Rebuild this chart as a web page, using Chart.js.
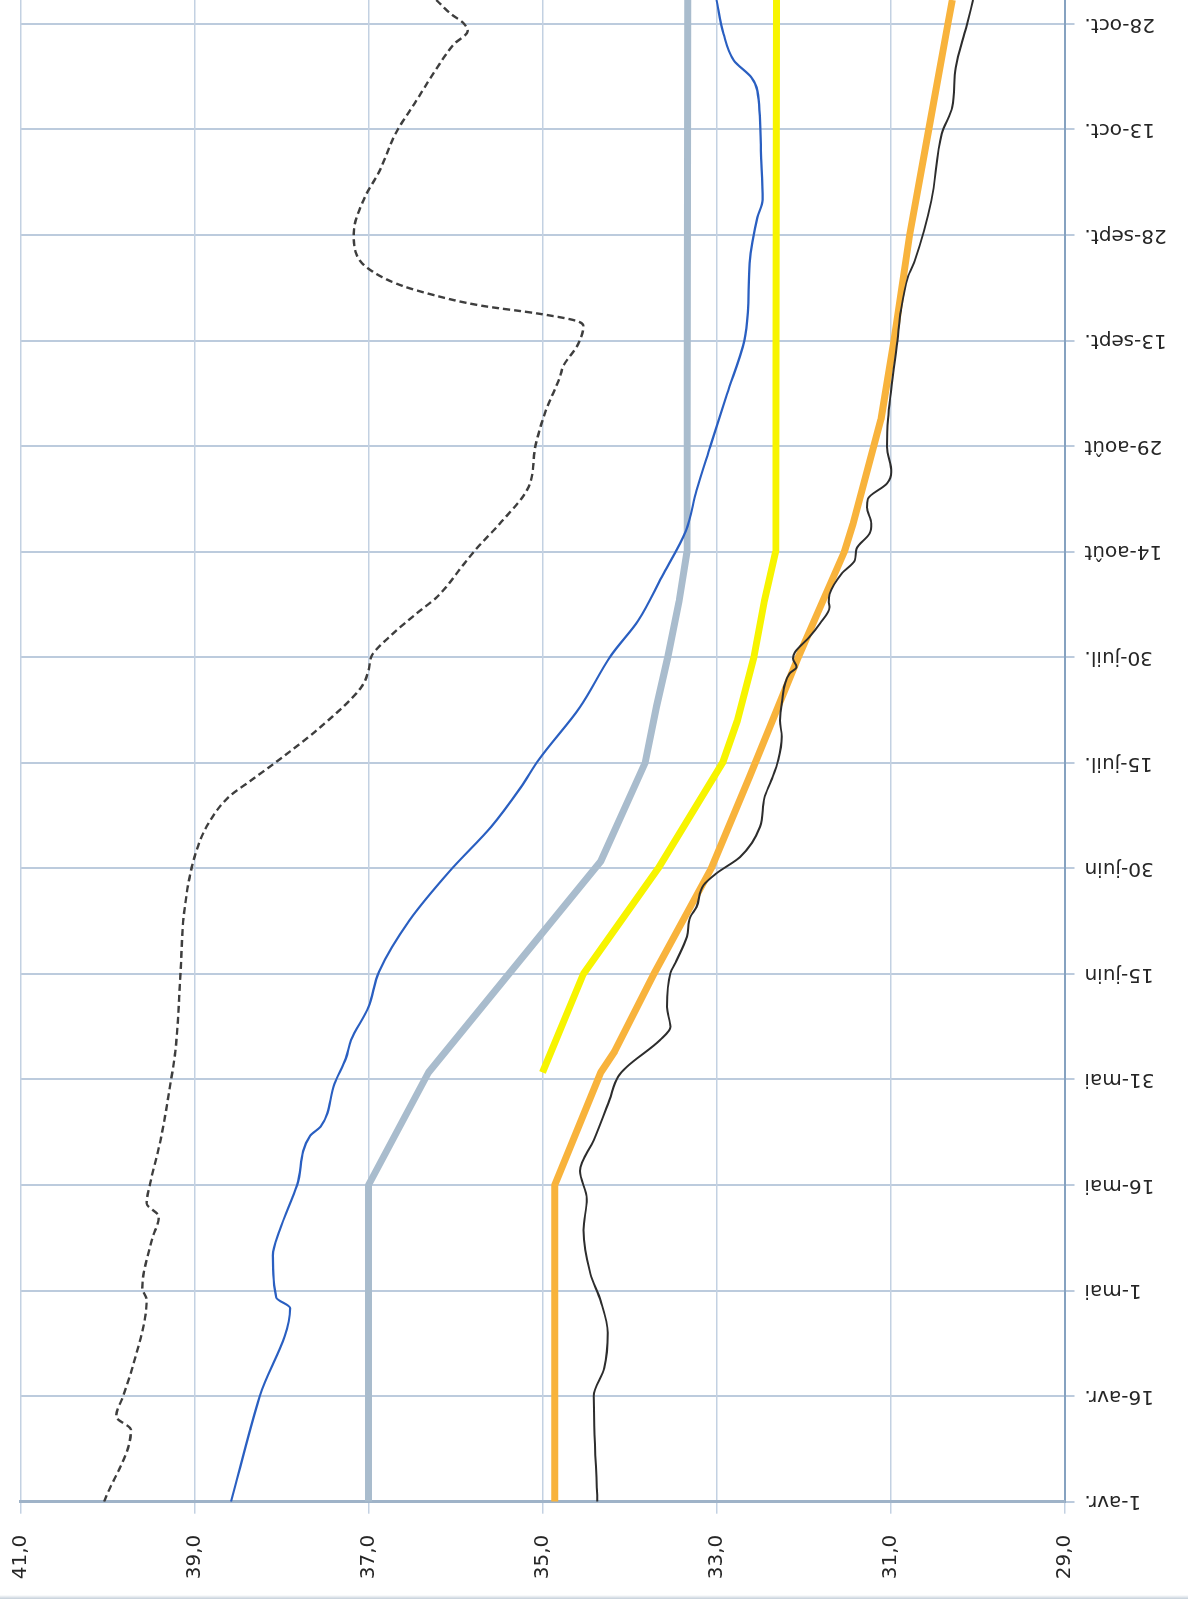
<!DOCTYPE html>
<html><head><meta charset="utf-8">
<script src="https://cdn.jsdelivr.net/npm/chart.js@4.4.1/dist/chart.umd.min.js"></script>
<style>
html,body{margin:0;padding:0;background:#fff;overflow:hidden;}
#page{position:relative;width:1188px;height:1599px;overflow:hidden;background:#fff;}
#rot{position:absolute;left:0;top:0;width:1599px;height:1188px;transform-origin:0 0;transform:translate(0,1599px) rotate(-90deg);}
#edge{position:absolute;left:0;right:0;bottom:0;height:4px;background:linear-gradient(#ffffff,#c4cfd9);}
</style></head><body>
<div id="page"><div id="rot"><canvas id="c" width="1599" height="1188"></canvas></div><div id="edge"></div></div>
<script>
// Date axis: days since 1-avr.
const tickDays = [0,15,30,45,60,75,90,105,120,135,150,165,180,195,210];
const dateLabels = ['1-avr.','16-avr.','1-mai','16-mai','31-mai','15-juin','30-juin','15-juil.','30-juil.','14-août','29-août','13-sept.','28-sept.','13-oct.','28-oct.'];
const valueTicks = [29,31,33,35,37,39,41];

// Dashed dark series
const dashDays = [0,10.2,12.1,15,19.2,28.7,30.3,37.2,40.5,42.4,45.2,51.4,59.9,64,75.3,83.6,91.6,96.4,100.1,102.5,105.5,110.1,115.8,118.1,120.3,122.9,126.2,128.6,133.3,135.7,139,144.2,150.1,155.1,159.8,161.4,164.5,167.1,167.8,168.8,170,171.6,173.1,175.4,177.3,180.2,184.9,189.2,194.4,199.1,203.8,207.1,209,210,211.5,213.4];
const dashVals = [40.04,39.73,39.90,39.82,39.71,39.55,39.60,39.49,39.41,39.55,39.51,39.39,39.27,39.22,39.16,39.12,39.00,38.84,38.61,38.35,38.02,37.55,37.08,37.00,36.96,36.76,36.45,36.21,35.90,35.74,35.49,35.16,35.08,34.96,34.80,34.76,34.59,34.53,34.61,35.03,35.72,36.29,36.68,37.02,37.14,37.17,37.06,36.87,36.69,36.45,36.21,36.02,35.86,35.90,36.06,36.22];

// Blue series
const blueDays = [0,15,27.5,29,35,38.6,45,52,53.3,59.4,63,65.6,70.3,75.3,82.6,89.7,95.9,101.5,105.5,112.9,120.3,125.2,131.4,138,143.7,150,157.4,165,169,176,182.5,185,192,200.5,202.4,204.8,208.6,213.4];
const blueVals = [38.58,38.25,37.90,38.06,38.10,38.02,37.82,37.67,37.55,37.39,37.26,37.20,37.00,36.88,36.53,36.06,35.59,35.25,35.04,34.57,34.21,33.90,33.63,33.35,33.23,33.07,32.88,32.68,32.64,32.62,32.53,32.47,32.49,32.53,32.60,32.80,32.92,33.00];

// Grey-blue thick series
const greyDays = [0,45,61,91,105,113,120,128,135,213.4];
const greyVals = [37.00,37.00,36.31,34.33,33.82,33.69,33.56,33.43,33.34,33.33];

// Yellow thick series
const yellowDays = [61,75,90,105,111,120,128,135,213.4];
const yellowVals = [35.00,34.53,33.67,32.93,32.76,32.57,32.45,32.32,32.31];

// Orange thick series
const orangeDays = [0,45,61,64,75,90,103,120,135,139,153.8,165,180,195,210,213.4];
const orangeVals = [34.86,34.86,34.33,34.17,33.72,33.06,32.62,32.06,31.53,31.43,31.11,30.96,30.78,30.56,30.34,30.29];

// Black thin series
const blackDays = [0,15,19,24,28.5,32.4,38.6,43,47,51.4,57.1,60.4,61.8,65.6,67.5,70.3,75.1,76.9,80.3,83.1,84.5,87.6,89.3,91.6,95.9,100,102.5,105.4,108.7,111,113.4,117.7,118.6,119.8,120.7,122.9,124.8,127.1,127.8,129,131.9,133.8,135.4,137.6,139,141.3,142.5,144.7,146.3,149.9,153.8,165,169.3,174,176.4,184.9,194.4,198.2,203.8,209.5,213.4];
const blackVals = [34.37,34.41,34.29,34.25,34.33,34.45,34.53,34.49,34.57,34.41,34.23,34.13,34.03,33.65,33.53,33.57,33.53,33.46,33.34,33.30,33.23,33.15,33.00,32.73,32.50,32.45,32.37,32.29,32.25,32.27,32.25,32.16,32.08,32.12,32.10,31.93,31.81,31.70,31.71,31.70,31.56,31.41,31.39,31.24,31.22,31.27,31.26,31.04,30.99,31.04,31.03,30.92,30.88,30.80,30.72,30.53,30.41,30.29,30.25,30.13,30.05];

const mk = (d, v) => d.map((x, i) => ({x: x, y: v[i]}));
const lblFont = {family: "'DejaVu Sans', sans-serif", size: 20};

new Chart(document.getElementById('c'), {
  type: 'line',
  data: {datasets: [
    {label: 'noir', data: mk(blackDays, blackVals), borderColor: '#2d2d2d', borderWidth: 2, cubicInterpolationMode: 'monotone'},
    {label: 'bleu', data: mk(blueDays, blueVals), borderColor: '#2a5fc1', borderWidth: 2.2, cubicInterpolationMode: 'monotone'},
    {label: 'pointillé', data: mk(dashDays, dashVals), borderColor: '#3e3e3e', borderWidth: 2.4, borderDash: [7, 4], cubicInterpolationMode: 'monotone'},
    {label: 'orange', data: mk(orangeDays, orangeVals), borderColor: '#f8b33c', borderWidth: 7, tension: 0},
    {label: 'jaune', data: mk(yellowDays, yellowVals), borderColor: '#f7f400', borderWidth: 7, tension: 0},
    {label: 'gris', data: mk(greyDays, greyVals), borderColor: '#a9bccd', borderWidth: 7, tension: 0}
  ]},
  options: {
    responsive: false, animation: false, devicePixelRatio: 1,
    layout: {padding: {top: 20.5, right: 0, left: 0, bottom: 0}},
    elements: {point: {radius: 0}, line: {borderCapStyle: 'butt', borderJoinStyle: 'round', fill: false, tension: 0}},
    plugins: {legend: {display: false}, tooltip: {enabled: false}},
    scales: {
      x: {
        type: 'linear', min: 0, max: 213.4,
        afterBuildTicks: s => { s.ticks = tickDays.map(v => ({value: v})); },
        afterFit: s => { s.height = 123.5; s.paddingLeft = 0; s.paddingRight = 0; },
        ticks: {minRotation: 90, maxRotation: 90, autoSkip: false, padding: 10, font: lblFont, color: '#262626',
                callback: v => dateLabels[tickDays.indexOf(v)]},
        grid: {color: '#bccbdd', lineWidth: 2, tickLength: 10},
        border: {color: '#86a2c0', width: 2}
      },
      y: {
        min: 29, max: 41,
        afterBuildTicks: s => { s.ticks = valueTicks.map(v => ({value: v})); },
        afterFit: s => { s.width = 97.3; s.paddingTop = 0; s.paddingBottom = 0; },
        ticks: {padding: 21, font: lblFont, color: '#262626',
                callback: v => v.toFixed(1).replace('.', ',')},
        grid: {color: '#c3d1e2', lineWidth: 1.5, tickLength: 12},
        border: {color: '#9fb3c8', width: 3}
      }
    }
  }
});
</script>
</body></html>
